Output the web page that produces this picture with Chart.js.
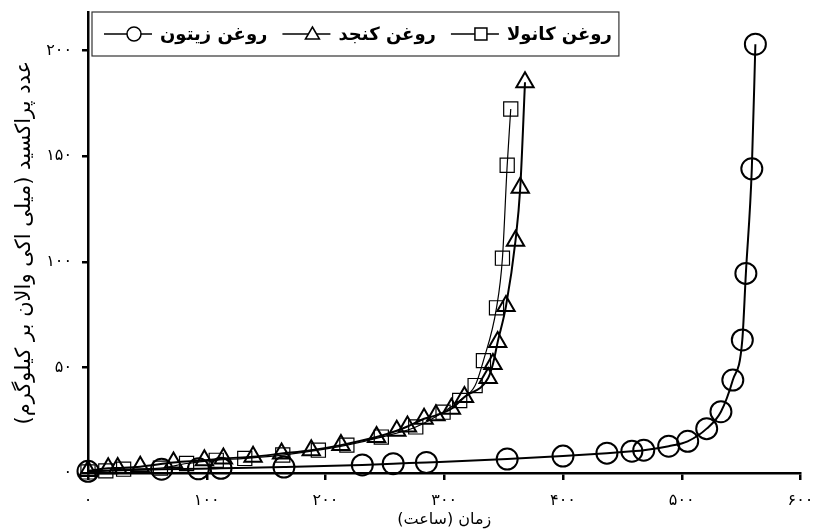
<!DOCTYPE html>
<html>
<head>
<meta charset="utf-8">
<script src="https://cdn.jsdelivr.net/npm/chart.js@4.4.1/dist/chart.umd.min.js"></script>
<style>
  html, body { margin: 0; padding: 0; background: #fff; }
  #wrap { width: 813px; height: 530px; }
</style>
</head>
<body>
<div id="wrap"><canvas id="chart"></canvas></div>
<script>
// olive oil (circles)
var oliveHours  = [0, 62, 93, 112, 165, 231, 257, 285, 353, 400, 437, 458, 468, 489, 505, 521, 533, 543, 551, 554, 559, 562];
var oliveValues = [0.8, 1.8, 2, 2.2, 2.8, 3.8, 4.4, 5, 6.6, 8, 9.4, 10.3, 10.8, 12.7, 15, 21, 29, 44, 63, 94.5, 144, 203];

// sesame oil (triangles)
var sesameHours  = [0, 17, 25, 44, 72, 98, 114, 139, 163, 188, 213, 243, 260, 269, 283, 293, 306, 317, 337, 341, 345, 352, 360, 364, 368];
var sesameValues = [1, 2.2, 2.4, 3, 5, 6, 6.9, 7.7, 9.2, 10.8, 13.2, 17, 20, 22, 25.7, 27.3, 30.4, 36, 45, 51.6, 62, 79, 110, 135, 185];

// canola oil (squares)
var canolaHours  = [0, 15, 30, 61, 83, 108, 132, 164, 194, 218, 247, 276, 299, 313, 326, 333, 344, 349, 353, 356];
var canolaValues = [0.5, 1, 1.8, 2.3, 4.5, 6, 6.9, 8.5, 10.8, 13.2, 17, 21.8, 28.8, 34.3, 41.4, 53.2, 78.2, 101.7, 145.7, 172.3];

var xTicks = [0, 100, 200, 300, 400, 500, 600];
var xTickLabels = ['۰', '۱۰۰', '۲۰۰', '۳۰۰', '۴۰۰', '۵۰۰', '۶۰۰'];
var yTicks = [0, 50, 100, 150, 200];
var yTickLabels = ['۰', '۵۰', '۱۰۰', '۱۵۰', '۲۰۰'];

var seriesNames = ['روغن زیتون', 'روغن کنجد', 'روغن کانولا'];
var xTitle = 'زمان (ساعت)\u200F';
var yTitle = 'عدد پراکسید (میلی اکی والان بر کیلوگرم)\u200F';

function pairs(xs, ys) {
    return xs.map(function(x, i) { return { x: x, y: ys[i] }; });
}

var fa = "'DejaVu Sans', sans-serif";

// draws the boxed legend inside the plot area
var boxLegend = {
    id: 'boxLegend',
    afterDraw: function(chart) {
        var ctx = chart.ctx;
        var area = chart.chartArea;
        var left = area.left + 4, top = 12, h = 44;
        ctx.save();
        ctx.font = 'bold 18px ' + fa;
        ctx.textBaseline = 'middle';
        ctx.textAlign = 'left';
        var x = left + 12;
        var cy = top + h / 2;
        chart.data.datasets.forEach(function(ds) {
            ctx.strokeStyle = '#000';
            ctx.lineWidth = 1.5;
            ctx.beginPath();
            ctx.moveTo(x, cy);
            ctx.lineTo(x + 48, cy);
            ctx.stroke();
            var mx = x + 30;
            ctx.beginPath();
            if (ds.pointStyle === 'circle') {
                ctx.arc(mx, cy, 7, 0, Math.PI * 2);
            } else if (ds.pointStyle === 'triangle') {
                ctx.moveTo(mx, cy - 7);
                ctx.lineTo(mx + 7, cy + 5);
                ctx.lineTo(mx - 7, cy + 5);
                ctx.closePath();
            } else {
                ctx.rect(mx - 6, cy - 6, 12, 12);
            }
            ctx.fillStyle = '#fff';
            ctx.fill();
            ctx.stroke();
            ctx.fillStyle = '#000';
            ctx.fillText(ds.label, x + 56, cy + 1);
            x += 56 + ctx.measureText(ds.label).width + 15;
        });
        ctx.strokeStyle = '#333';
        ctx.lineWidth = 1.2;
        ctx.strokeRect(left, top, x - left - 8, h);
        ctx.restore();
    }
};

var ctx = document.getElementById('chart').getContext('2d');
var chart = new Chart(ctx, {
    type: 'line',
    data: {
        datasets: [{
            label: seriesNames[0],
            data: pairs(oliveHours, oliveValues),
            pointStyle: 'circle',
            pointRadius: 10.5,
            borderWidth: 2
        }, {
            label: seriesNames[1],
            data: pairs(sesameHours, sesameValues),
            pointStyle: 'triangle',
            pointRadius: 10,
            borderWidth: 2
        }, {
            label: seriesNames[2],
            data: pairs(canolaHours, canolaValues),
            pointStyle: 'rect',
            pointRadius: 10,
            borderWidth: 1.2
        }]
    },
    options: {
        responsive: true,
        maintainAspectRatio: false,
        animation: false,
        clip: false,
        layout: { padding: { top: 9, right: 12, left: 0, bottom: 0 } },
        elements: {
            line: { borderColor: '#000', cubicInterpolationMode: 'monotone', fill: false },
            point: { borderColor: '#000', backgroundColor: 'rgba(0,0,0,0)', borderWidth: 2, hoverRadius: 10 }
        },
        plugins: {
            legend: { display: false },
            tooltip: { enabled: false }
        },
        scales: {
            x: {
                type: 'linear',
                min: 0,
                max: 600,
                afterFit: function(s) { s.height = 57; s.paddingLeft = 0; s.paddingRight = 0; },
                afterBuildTicks: function(s) { s.ticks = xTicks.map(function(v) { return { value: v }; }); },
                border: { color: '#000', width: 2.5 },
                grid: { drawOnChartArea: false, color: '#000', lineWidth: 2.5, tickLength: 7 },
                ticks: {
                    color: '#000',
                    padding: 11,
                    maxRotation: 0,
                    font: { family: fa, size: 16 },
                    callback: function(v) { return xTickLabels[xTicks.indexOf(v)]; }
                },
                title: {
                    display: true,
                    text: xTitle,
                    color: '#000',
                    font: { family: fa, size: 16 },
                    padding: { top: 0, bottom: 1 }
                }
            },
            y: {
                min: 0,
                max: 218,
                afterFit: function(s) { s.width = 88; s.paddingTop = 0; s.paddingBottom = 0; },
                afterBuildTicks: function(s) { s.ticks = yTicks.map(function(v) { return { value: v }; }); },
                border: { color: '#000', width: 2.5 },
                grid: { drawOnChartArea: false, color: '#000', lineWidth: 2.5, tickLength: 6 },
                ticks: {
                    color: '#000',
                    padding: 10,
                    font: { family: fa, size: 16 },
                    callback: function(v) { return yTickLabels[yTicks.indexOf(v)]; }
                },
                title: {
                    display: true,
                    text: yTitle,
                    color: '#000',
                    font: { family: fa, size: 21 },
                    padding: { top: 12, bottom: 0 }
                }
            }
        }
    },
    plugins: [boxLegend]
});
</script>
</body>
</html>
